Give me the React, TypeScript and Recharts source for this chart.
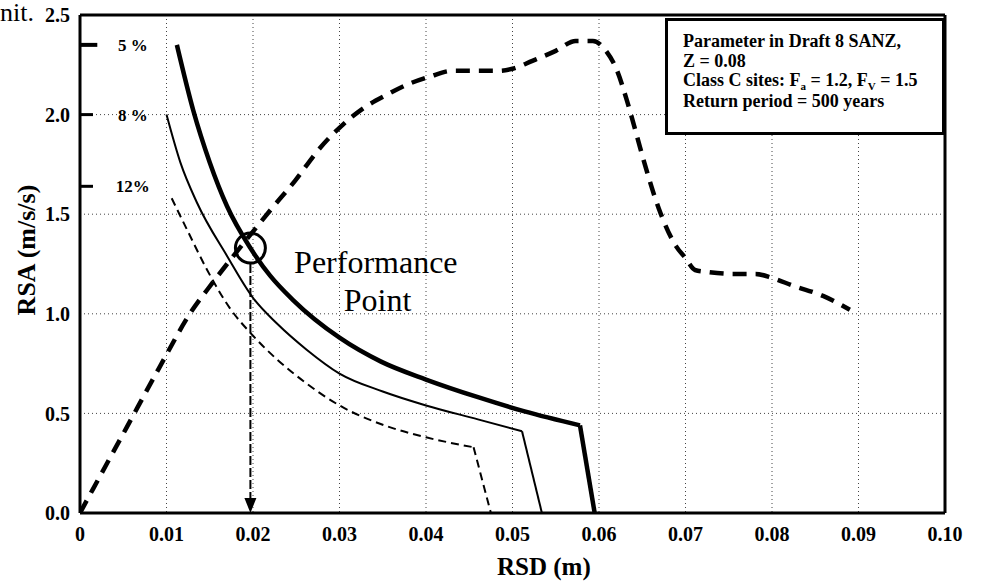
// @ts-nocheck
import React from 'react';
import {
  ComposedChart,
  Line,
  XAxis,
  YAxis,
  CartesianGrid,
  ReferenceLine,
  ReferenceDot,
} from 'recharts';

const SERIF = "'Liberation Serif', 'Times New Roman', serif";

// axis ticks
const xTicks = [0, 0.01, 0.02, 0.03, 0.04, 0.05, 0.06, 0.07, 0.08, 0.09, 0.1];
const yTicks = [0, 0.5, 1.0, 1.5, 2.0, 2.5];

// demand spectrum, 5 % damping (thick) - curved branch, then the drop to zero
const d5X = [0.0112, 0.0131, 0.015, 0.017, 0.0197, 0.022, 0.0246, 0.03, 0.0348, 0.04, 0.0461, 0.0514, 0.0578];
const d5Y = [2.35, 2.02, 1.76, 1.54, 1.33, 1.19, 1.07, 0.88, 0.76, 0.67, 0.58, 0.51, 0.44];
const d5DropX = [0.0578, 0.0595];
const d5DropY = [0.44, 0];

// demand spectrum, 8 % damping (thin)
const d8X = [0.01, 0.0116, 0.0135, 0.017, 0.02, 0.0228, 0.0262, 0.03, 0.035, 0.04, 0.046, 0.0511];
const d8Y = [2.0, 1.76, 1.56, 1.29, 1.08, 0.95, 0.82, 0.7, 0.61, 0.54, 0.47, 0.41];
const d8DropX = [0.0511, 0.0534];
const d8DropY = [0.41, 0];

// demand spectrum, 12 % damping (dashed)
const d12X = [0.0106, 0.0124, 0.0147, 0.0173, 0.02, 0.0228, 0.0262, 0.03, 0.0352, 0.04, 0.0455];
const d12Y = [1.58, 1.42, 1.22, 1.03, 0.89, 0.77, 0.65, 0.54, 0.44, 0.38, 0.33];
const d12DropX = [0.0455, 0.0475];
const d12DropY = [0.33, 0];

// capacity spectrum (heavy dashed)
const capX = [0, 0.0015, 0.0054, 0.0093, 0.0127, 0.0154, 0.017, 0.0205, 0.022, 0.0249, 0.0277, 0.0304, 0.0327, 0.0355,
  0.0378, 0.0404, 0.0431, 0.0459, 0.0485, 0.05, 0.0523, 0.055, 0.0573, 0.0593, 0.0608, 0.062, 0.0633, 0.0644, 0.0651,
  0.0669, 0.0689, 0.07, 0.0711, 0.0726, 0.0756, 0.0781, 0.08, 0.0825, 0.0859, 0.089];
const capY = [0, 0.12, 0.43, 0.74, 1.0, 1.16, 1.25, 1.44, 1.52, 1.67, 1.83, 1.95, 2.03, 2.1,
  2.15, 2.19, 2.22, 2.22, 2.22, 2.23, 2.27, 2.32, 2.37, 2.37, 2.32, 2.23, 2.06, 1.89, 1.78,
  1.53, 1.34, 1.28, 1.22, 1.21, 1.2, 1.2, 1.18, 1.14, 1.09, 1.02];

// damping markers on the y axis
const dampLabels = ['5 %', '8 %', '12%'];
const dampLevels = [2.35, 2.0, 1.64];

// performance point
const perfX = 0.0197;
const perfY = 1.33;

const toPts = (xs, ys) => xs.map((x, i) => ({ x, y: ys[i] }));

const Arrow = ({ cx, cy }) => (
  <path d={`M${cx - 6},${cy - 15} L${cx + 6},${cy - 15} L${cx},${cy} Z`} fill="#000" />
);

const lineProps = { dataKey: 'y', stroke: '#000', dot: false, activeDot: false, isAnimationActive: false };

export default function App() {
  const tickStyle = { fontFamily: SERIF, fontWeight: 'bold', fontSize: 20, fill: '#000' };
  const subStyle = { fontSize: 11, lineHeight: '11px', display: 'inline-block', verticalAlign: -4 };

  return (
    <div style={{ position: 'absolute', left: 0, top: 0, width: 982, height: 585, background: '#fff', fontFamily: SERIF }}>
      <ComposedChart width={982} height={585} margin={{ top: 15, right: 37, bottom: 0, left: 0 }}>
        <CartesianGrid stroke="#444" strokeDasharray="1 3" />
        <XAxis
          type="number"
          dataKey="x"
          domain={[0, 0.1]}
          ticks={xTicks}
          allowDataOverflow
          height={72}
          tickLine={false}
          tickMargin={8}
          axisLine={{ stroke: '#000', strokeWidth: 3 }}
          tick={tickStyle}
          tickFormatter={(v) => (v === 0 ? '0' : v.toFixed(2))}
        />
        <YAxis
          type="number"
          dataKey="y"
          domain={[0, 2.5]}
          ticks={yTicks}
          allowDataOverflow
          width={80}
          tickLine={false}
          tickMargin={4}
          axisLine={{ stroke: '#000', strokeWidth: 3 }}
          tick={tickStyle}
          tickFormatter={(v) => v.toFixed(1)}
        />
        <ReferenceLine y={2.5} stroke="#000" strokeWidth={3} />
        <ReferenceLine x={0.1} stroke="#000" strokeWidth={3} />

        {dampLevels.map((lv, i) => (
          <ReferenceLine
            key={'t' + i}
            segment={[{ x: 0, y: lv }, { x: i === 0 ? 0.002 : 0.0015, y: lv }]}
            stroke="#000"
            strokeWidth={i === 0 ? 4 : 3}
          />
        ))}
        {dampLevels.map((lv, i) => (
          <ReferenceDot
            key={'l' + i}
            x={0.0061}
            y={lv}
            r={0}
            fill="none"
            stroke="none"
            label={{ value: dampLabels[i], position: 'center', fill: '#000', fontSize: 17, fontWeight: 'bold', fontFamily: SERIF }}
          />
        ))}

        <Line {...lineProps} data={toPts(capX, capY)} type="monotone" strokeWidth={4.5} strokeDasharray="14 9" />
        <Line {...lineProps} data={toPts(d12X, d12Y)} type="monotone" strokeWidth={2} strokeDasharray="8 5" />
        <Line {...lineProps} data={toPts(d12DropX, d12DropY)} type="linear" strokeWidth={2} strokeDasharray="8 5" />
        <Line {...lineProps} data={toPts(d8X, d8Y)} type="monotone" strokeWidth={2} />
        <Line {...lineProps} data={toPts(d8DropX, d8DropY)} type="linear" strokeWidth={2} />
        <Line {...lineProps} data={toPts(d5X, d5Y)} type="monotone" strokeWidth={4.5} />
        <Line {...lineProps} data={toPts(d5DropX, d5DropY)} type="linear" strokeWidth={4.5} />

        <ReferenceLine
          segment={[{ x: perfX, y: perfY - 0.08 }, { x: perfX, y: 0.05 }]}
          stroke="#000"
          strokeWidth={2}
          strokeDasharray="9 3"
        />
        <ReferenceDot x={perfX} y={0} r={0} shape={Arrow} />
        <ReferenceDot x={perfX} y={perfY} r={15} fill="none" stroke="#000" strokeWidth={3} />
        <ReferenceDot x={0.0342} y={1.26} r={0} fill="none" stroke="none"
          label={{ value: 'Performance', position: 'center', fill: '#000', fontSize: 32, fontFamily: SERIF }} />
        <ReferenceDot x={0.0344} y={1.07} r={0} fill="none" stroke="none"
          label={{ value: 'Point', position: 'center', fill: '#000', fontSize: 32, fontFamily: SERIF }} />
      </ComposedChart>

      {/* cut-off page text */}
      <div style={{ position: 'absolute', left: 0, top: 0, fontSize: 26, lineHeight: '26px' }}>nit.</div>

      {/* axis titles */}
      <div style={{ position: 'absolute', left: 497, top: 552, fontSize: 25, fontWeight: 'bold', lineHeight: '30px', whiteSpace: 'nowrap' }}>
        RSD (m)
      </div>
      <div style={{
        position: 'absolute', left: 27, top: 250, fontSize: 26, fontWeight: 'bold', lineHeight: '30px', whiteSpace: 'nowrap',
        transform: 'translate(-50%, -50%) rotate(-90deg)',
      }}>
        RSA (m/s/s)
      </div>

      {/* parameter box */}
      <div style={{
        position: 'absolute', left: 665, top: 18, width: 280, height: 117, boxSizing: 'border-box',
        border: '3px solid #000', background: '#fff', padding: '11px 0 0 15px',
        fontSize: 18, fontWeight: 'bold', lineHeight: '19.5px', whiteSpace: 'nowrap',
      }}>
        <div>Parameter in Draft 8 SANZ,</div>
        <div>Z = 0.08</div>
        <div>Class C sites: F<span style={subStyle}>a</span> = 1.2, F<span style={subStyle}>V</span> = 1.5</div>
        <div>Return period = 500 years</div>
      </div>
    </div>
  );
}
